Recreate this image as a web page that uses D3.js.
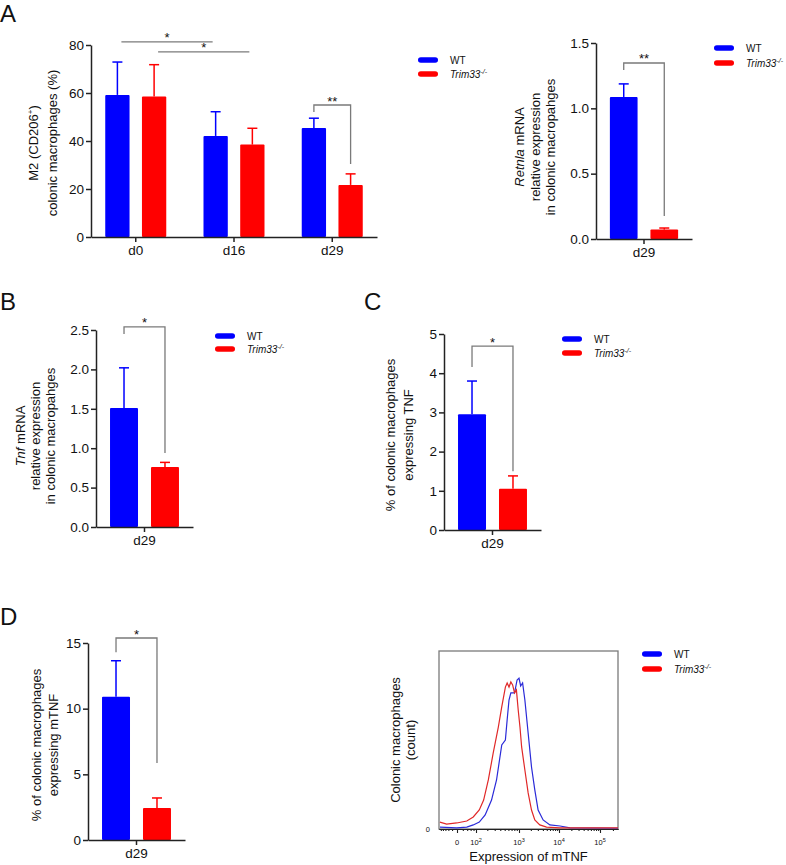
<!DOCTYPE html>
<html>
<head>
<meta charset="utf-8">
<script src="https://cdn.jsdelivr.net/npm/d3@7"></script>
<style>
  body { margin: 0; background: #fff; }
  text { font-family: "Liberation Sans", Arial, sans-serif; fill: #111; }
</style>
</head>
<body>
<svg width="786" height="865"></svg>
<script>
// ---- data ----
var seriesKeys = ['wt', 'ko'];
var seriesColor = { wt: '#0000ff', ko: '#ff0000' };

var daysA = ['d0', 'd16', 'd29'];
var m2Wt = [59.2, 42.1, 45.4], m2WtErr = [13.7, 10.1, 4.1];
var m2Ko = [58.5, 38.5, 21.7], m2KoErr = [13.3, 6.8, 4.6];
var m2Ticks = [0, 20, 40, 60, 80];

var day29 = ['d29'];
var retnlaWt = [1.087], retnlaWtErr = [0.10];
var retnlaKo = [0.072], retnlaKoErr = [0.012];
var retnlaTicks = [0, 0.5, 1.0, 1.5];

var tnfWt = [1.51], tnfWtErr = [0.51];
var tnfKo = [0.76], tnfKoErr = [0.06];
var tnfTicks = [0, 0.5, 1.0, 1.5, 2.0, 2.5];

var tnfPctWt = [2.95], tnfPctWtErr = [0.85];
var tnfPctKo = [1.05], tnfPctKoErr = [0.33];
var tnfPctTicks = [0, 1, 2, 3, 4, 5];

var mtnfWt = [10.9], mtnfWtErr = [2.75];
var mtnfKo = [2.44], mtnfKoErr = [0.76];
var mtnfTicks = [0, 5, 10, 15];

// flow histogram, mTNF intensity vs count (% of mode)
var histWtX = [-109, -1, 38, 78, 124, 177, 253, 330, 431, 517, 564, 618, 676, 808, 913, 1000, 1103, 1237, 1413, 1709, 2078, 2512, 3040, 4050, 5960, 10600, 18550, 262000];
var histWtY = [1.3, 0.7, 1.3, 2.7, 4.6, 9.3, 19.2, 32.5, 55.7, 59.0, 72.3, 85.5, 90.2, 90.2, 98.8, 100, 94.8, 96.8, 85.5, 63.6, 41.1, 25.9, 12.6, 6.0, 2.7, 2.0, 0.7, 0.5];
var histKoX = [-110, -51, -1, 38, 78, 124, 162, 212, 277, 362, 431, 517, 564, 618, 676, 737, 808, 884, 963, 1059, 1168, 1413, 1709, 2078, 2512, 3350, 4930, 10600, 262000];
var histKoY = [4.6, 3.3, 4.0, 5.3, 8.0, 12.6, 19.2, 32.5, 50.4, 67.6, 80.9, 94.1, 96.8, 94.1, 97.5, 95.5, 90.2, 92.2, 78.9, 67.6, 54.4, 39.1, 23.9, 12.6, 6.0, 2.7, 1.3, 0.7, 0.7];
var histTicks = [0, 100, 1000, 10000, 100000];
var histTickExp = ['', '2', '3', '4', '5'];

var svg = d3.select('svg');

function zip(a, b) {
  return a.map(function(v, i) { return { x: v, y: b[i] }; });
}

// bar panel with error bars, returns scales
function barPanel(p) {
  var g = svg.append('g');
  var y = d3.scaleLinear().domain([0, p.max]).range([p.bottom, p.top]);
  var x = d3.scaleBand().domain(p.groups).range([p.x0, p.x1])
    .paddingInner(p.pad[0]).paddingOuter(p.pad[1]);
  var xs = d3.scaleBand().domain(seriesKeys).range([0, x.bandwidth()]).paddingInner(p.pad[2]);

  var rows = [];
  p.groups.forEach(function(d, i) {
    rows.push({ g: d, s: 'wt', v: p.wt[i], e: p.wtErr[i] });
    rows.push({ g: d, s: 'ko', v: p.ko[i], e: p.koErr[i] });
  });
  var cx = function(d) { return x(d.g) + xs(d.s) + xs.bandwidth() / 2; };

  // error bars (upper only)
  g.selectAll('line.err').data(rows).enter().append('line')
    .attr('x1', cx).attr('x2', cx)
    .attr('y1', function(d) { return y(d.v); })
    .attr('y2', function(d) { return y(d.v + d.e); })
    .attr('stroke', function(d) { return seriesColor[d.s]; })
    .attr('stroke-width', 1.5);
  g.selectAll('line.cap').data(rows).enter().append('line')
    .attr('x1', function(d) { return cx(d) - 5; })
    .attr('x2', function(d) { return cx(d) + 5; })
    .attr('y1', function(d) { return y(d.v + d.e); })
    .attr('y2', function(d) { return y(d.v + d.e); })
    .attr('stroke', function(d) { return seriesColor[d.s]; })
    .attr('stroke-width', 1.5);

  g.selectAll('rect').data(rows).enter().append('rect')
    .attr('x', function(d) { return x(d.g) + xs(d.s); })
    .attr('width', xs.bandwidth())
    .attr('y', function(d) { return y(d.v); })
    .attr('height', function(d) { return y(0) - y(d.v); })
    .attr('rx', 1)
    .attr('fill', function(d) { return seriesColor[d.s]; });

  var ya = g.append('g').attr('transform', 'translate(' + p.x0 + ',0)')
    .call(d3.axisLeft(y).tickValues(p.ticks).tickSize(5).tickSizeOuter(0)
      .tickPadding(2).tickFormat(p.fmt));
  var xa = g.append('g').attr('transform', 'translate(0,' + y(0) + ')')
    .call(d3.axisBottom(x).tickSize(5).tickSizeOuter(0).tickPadding(3));
  [ya, xa].forEach(function(a) {
    a.selectAll('path,line').attr('stroke', '#222').attr('stroke-width', 1.5);
    a.selectAll('text').attr('font-size', 13.5).attr('fill', '#111')
      .attr('font-family', '"Liberation Sans", Arial, sans-serif');
  });

  return { x: x, xs: xs, y: y, g: g };
}

// bracket between WT and KO of one group
function bracket(s, grp, top, leftEnd, rightEnd, label) {
  var xl = s.x(grp) + s.xs('wt') + s.xs.bandwidth() / 2;
  var xr = s.x(grp) + s.xs('ko') + s.xs.bandwidth() / 2;
  s.g.append('path')
    .attr('d', 'M' + xl + ',' + s.y(leftEnd) + 'V' + s.y(top) + 'H' + xr + 'V' + s.y(rightEnd))
    .attr('fill', 'none').attr('stroke', '#7a7a7a').attr('stroke-width', 1.3);
  s.g.append('text').attr('x', (xl + xr) / 2).attr('y', s.y(top) + 0.5)
    .attr('text-anchor', 'middle').attr('font-size', 13).text(label);
}

function legend(x, y1, y2) {
  var items = [{ k: 'wt', y: y1 }, { k: 'ko', y: y2 }];
  var g = svg.append('g');
  g.selectAll('rect').data(items).enter().append('rect')
    .attr('x', x).attr('y', function(d) { return d.y - 2.8; })
    .attr('width', 20).attr('height', 5.6).attr('rx', 2.8)
    .attr('fill', function(d) { return seriesColor[d.k]; });
  g.append('text').attr('x', x + 32).attr('y', y1 + 3.8).attr('font-size', 10).text('WT');
  var t = g.append('text').attr('x', x + 32).attr('y', y2 + 3.8).attr('font-size', 10)
    .attr('font-style', 'italic');
  t.append('tspan').text('Trim33');
  t.append('tspan').attr('font-size', 7).attr('dy', -4).text('-/-');
}

function ylabel(lines, cy) {
  lines.forEach(function(l) {
    var t = svg.append('text')
      .attr('transform', 'translate(' + l.x + ',' + cy + ') rotate(-90)')
      .attr('text-anchor', 'middle').attr('font-size', 13);
    l.parts.forEach(function(p) {
      var ts = t.append('tspan').text(p[0]);
      if (p[1] === 'i') ts.attr('font-style', 'italic');
      if (p[1] === 'sup') ts.attr('font-size', 8).attr('dy', -5);
      if (p[1] === 'after') ts.attr('dy', 5);
    });
  });
}

function letter(s, x, y) {
  svg.append('text').attr('x', x).attr('y', y).attr('font-size', 24).text(s);
}

// ---- Panel A, M2 ----
letter('A', 0, 22);
var pA = barPanel({
  groups: daysA, wt: m2Wt, wtErr: m2WtErr, ko: m2Ko, koErr: m2KoErr,
  max: 80, ticks: m2Ticks, fmt: d3.format('d'),
  x0: 91, x1: 377, top: 45, bottom: 237, pad: [0.379, 0.145, 0.338]
});
// d0 vs d16 comparisons
var m2Comp = [
  { s: 'wt', y: 81.3, label: '*' },
  { s: 'ko', y: 77.1, label: '*' }
];
m2Comp.forEach(function(c) {
  var xa = pA.x('d0') + pA.xs(c.s) + pA.xs.bandwidth() / 2 + 4;
  var xb = pA.x('d16') + pA.xs(c.s) + pA.xs.bandwidth() / 2 - 3;
  pA.g.append('line').attr('x1', xa).attr('x2', xb)
    .attr('y1', pA.y(c.y)).attr('y2', pA.y(c.y))
    .attr('stroke', '#7a7a7a').attr('stroke-width', 1.3);
  pA.g.append('text').attr('x', (xa + xb) / 2).attr('y', pA.y(c.y) + 0.5)
    .attr('text-anchor', 'middle').attr('font-size', 13).text(c.label);
});
bracket(pA, 'd29', 55, 52.1, 30.4, '**');
ylabel([
  { x: 38, parts: [['M2 (CD206'], ['+', 'sup'], [')', 'after']] },
  { x: 56.5, parts: [['colonic macrophages (%)']] }
], 143);
legend(418, 60, 74);

// ---- Panel A, Retnla ----
var pAr = barPanel({
  groups: day29, wt: retnlaWt, wtErr: retnlaWtErr, ko: retnlaKo, koErr: retnlaKoErr,
  max: 1.5, ticks: retnlaTicks, fmt: d3.format('.1f'),
  x0: 596, x1: 692, top: 43, bottom: 239, pad: [0.169, 0.169, 0.317]
});
bracket(pAr, 'd29', 1.347, 1.293, 0.176, '**');
ylabel([
  { x: 523.5, parts: [['Retnla', 'i'], [' mRNA']] },
  { x: 539.5, parts: [['relative expression']] },
  { x: 554.5, parts: [['in colonic macropahges']] }
], 147);
legend(714, 48, 63);

// ---- Panel B, Tnf ----
letter('B', 0, 310);
var pB = barPanel({
  groups: day29, wt: tnfWt, wtErr: tnfWtErr, ko: tnfKo, koErr: tnfKoErr,
  max: 2.5, ticks: tnfTicks, fmt: d3.format('.1f'),
  x0: 96, x1: 193, top: 330, bottom: 527, pad: [0.169, 0.169, 0.317]
});
bracket(pB, 'd29', 2.54, 2.45, 0.94, '*');
ylabel([
  { x: 24.5, parts: [['Tnf', 'i'], [' mRNA']] },
  { x: 40, parts: [['relative expression']] },
  { x: 55, parts: [['in colonic macropahges']] }
], 436);
legend(215, 336, 349);

// ---- Panel C, TNF % ----
letter('C', 364, 310);
var pC = barPanel({
  groups: day29, wt: tnfPctWt, wtErr: tnfPctWtErr, ko: tnfPctKo, koErr: tnfPctKoErr,
  max: 5, ticks: tnfPctTicks, fmt: d3.format('d'),
  x0: 444, x1: 541, top: 334, bottom: 530, pad: [0.169, 0.169, 0.317]
});
bracket(pC, 'd29', 4.69, 4.16, 1.5, '*');
ylabel([
  { x: 394.5, parts: [['% of colonic macrophages']] },
  { x: 412.5, parts: [['expressing TNF']] }
], 435);
legend(562, 339, 353);

// ---- Panel D, mTNF % ----
letter('D', 0, 625);
var pD = barPanel({
  groups: day29, wt: mtnfWt, wtErr: mtnfWtErr, ko: mtnfKo, koErr: mtnfKoErr,
  max: 15, ticks: mtnfTicks, fmt: d3.format('d'),
  x0: 88, x1: 185, top: 643, bottom: 840, pad: [0.169, 0.169, 0.317]
});
bracket(pD, 'd29', 15.38, 14.3, 5.86, '*');
ylabel([
  { x: 40.5, parts: [['% of colonic macrophages']] },
  { x: 57.5, parts: [['expressing mTNF']] }
], 745);

// ---- Panel D, histogram ----
var hx = d3.scaleSymlog().constant(50)
  .domain([-120, 0, 100, 1000, 10000, 100000, 262144])
  .range([439, 457, 476, 519, 559, 600, 618]);
var hy = d3.scaleLinear().domain([0, 118]).range([829, 651]);

var hg = svg.append('g');
hg.append('rect')
  .attr('x', hx.range()[0]).attr('y', hy.range()[1])
  .attr('width', hx.range()[6] - hx.range()[0])
  .attr('height', hy.range()[0] - hy.range()[1])
  .attr('fill', 'none').attr('stroke', '#7a7a7a').attr('stroke-width', 1.3);

var line = d3.line().x(function(d) { return hx(d.x); }).y(function(d) { return hy(d.y); });
hg.append('path').datum(zip(histWtX, histWtY)).attr('d', line)
  .attr('fill', 'none').attr('stroke', '#2a2ad8').attr('stroke-width', 1.2);
hg.append('path').datum(zip(histKoX, histKoY)).attr('d', line)
  .attr('fill', 'none').attr('stroke', '#e02828').attr('stroke-width', 1.2);

var minor = [-100, -80, -60, -40, -20, 20, 40, 60, 80];
[100, 1000, 10000].forEach(function(b) {
  for (var k = 2; k <= 9; k++) minor.push(b * k);
});
minor.push(200000);

var hxa = hg.append('g').attr('transform', 'translate(0,' + hy(0) + ')')
  .call(d3.axisBottom(hx).tickValues(histTicks).tickSize(4).tickSizeOuter(0).tickFormat(''));
var hxm = hg.append('g').attr('transform', 'translate(0,' + hy(0) + ')')
  .call(d3.axisBottom(hx).tickValues(minor).tickSize(2).tickSizeOuter(0).tickFormat(''));
[hxa, hxm].forEach(function(a) {
  a.selectAll('path,line').attr('stroke', '#222').attr('stroke-width', 1.1);
});

var tl = hg.selectAll('text.tl').data(histTicks).enter().append('text')
  .attr('x', function(d) { return hx(d); })
  .attr('y', hy(0) + 16)
  .attr('text-anchor', 'middle').attr('font-size', 7.5);
tl.append('tspan').text(function(d) { return d === 0 ? '0' : '10'; });
tl.append('tspan').attr('font-size', 5.5).attr('dy', -3)
  .text(function(d, i) { return histTickExp[i]; });

hg.append('text').attr('x', 430).attr('y', hy(0) + 2.5)
  .attr('text-anchor', 'end').attr('font-size', 7.5).text('0');

hg.append('text').attr('x', (hx.range()[0] + hx.range()[6]) / 2).attr('y', 861)
  .attr('text-anchor', 'middle').attr('font-size', 13).text('Expression of mTNF');
ylabel([
  { x: 399.5, parts: [['Colonic macrophages']] },
  { x: 414.5, parts: [['(count)']] }
], 740);
legend(642, 654, 669);
</script>
</body>
</html>
